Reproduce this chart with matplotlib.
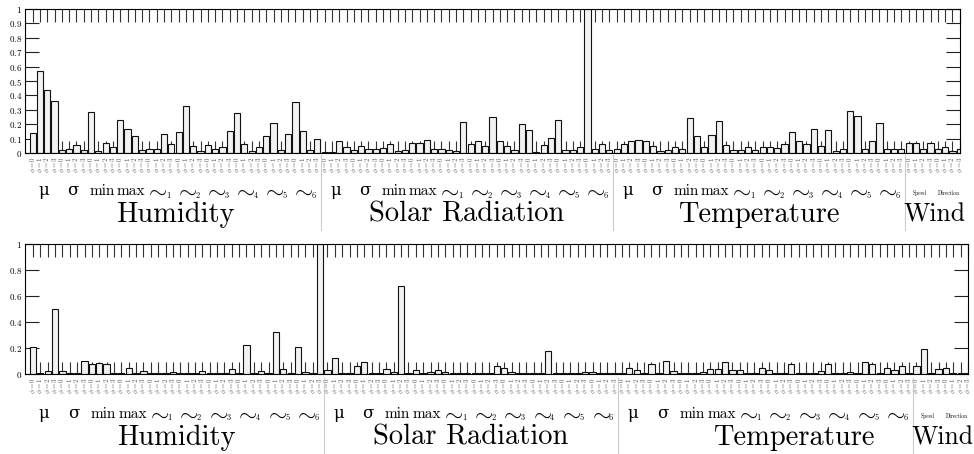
import numpy as np
import matplotlib.pyplot as plt
from matplotlib.transforms import blended_transform_factory

plt.rcParams['mathtext.fontset'] = 'cm'
plt.rcParams['font.family'] = ['cmr10', 'DejaVu Serif']
plt.rcParams['axes.unicode_minus'] = False

# categories
groups = ['Humidity', 'Solar Radiation', 'Temperature', 'Wind']
features = ['μ', 'σ', 'min', 'max', '1', '2', '3', '4', '5', '6']
wind_features = ['Speed', 'Direction']
levels = [0, 1, 2, 3]

# upper panel
top_humidity = [0.14, 0.57, 0.44, 0.36, 0.02, 0.025, 0.055, 0.02, 0.285, 0.015,
                0.07, 0.045, 0.23, 0.17, 0.12, 0.02, 0.025, 0.025, 0.135, 0.06,
                0.145, 0.325, 0.05, 0.015, 0.055, 0.025, 0.045, 0.15, 0.28, 0.065,
                0.015, 0.045, 0.12, 0.21, 0.02, 0.135, 0.355, 0.15, 0.02, 0.10]
top_solar = [0.01, 0.01, 0.08, 0.04, 0.02, 0.05, 0.025, 0.03, 0.035, 0.06,
             0.015, 0.02, 0.07, 0.07, 0.09, 0.03, 0.025, 0.02, 0.015, 0.215,
             0.06, 0.08, 0.05, 0.25, 0.085, 0.05, 0.02, 0.2, 0.16, 0.01,
             0.055, 0.105, 0.23, 0.02, 0.02, 0.045, 1.0, 0.03, 0.065, 0.02]
top_temperature = [0.03, 0.065, 0.085, 0.09, 0.085, 0.05, 0.015, 0.02, 0.04, 0.03,
                   0.24, 0.115, 0.04, 0.125, 0.22, 0.055, 0.02, 0.02, 0.045, 0.02,
                   0.045, 0.045, 0.035, 0.065, 0.145, 0.08, 0.06, 0.17, 0.05, 0.16,
                   0.015, 0.03, 0.29, 0.26, 0.03, 0.085, 0.205, 0.025, 0.025, 0.03]
top_wind = [0.07, 0.07, 0.025, 0.07, 0.025, 0.04, 0.015, 0.03]

# lower panel
bottom_humidity = [0.21, 0.01, 0.02, 0.50, 0.02, 0.005, 0.01, 0.10, 0.08, 0.085,
                   0.08, 0.005, 0.005, 0.045, 0.005, 0.02, 0.01, 0.01, 0.005, 0.015,
                   0.005, 0.01, 0.005, 0.025, 0.01, 0.005, 0.005, 0.035, 0.005, 0.225,
                   0.01, 0.02, 0.005, 0.32, 0.035, 0.005, 0.21, 0.015, 0.01, 1.0]
bottom_solar = [0.03, 0.125, 0.01, 0.005, 0.06, 0.095, 0.005, 0.005, 0.035, 0.015,
                0.68, 0.005, 0.03, 0.005, 0.015, 0.03, 0.015, 0.005, 0.005, 0.005,
                0.005, 0.005, 0.005, 0.06, 0.045, 0.015, 0.005, 0.005, 0.01, 0.01,
                0.18, 0.01, 0.01, 0.005, 0.005, 0.015, 0.015, 0.005, 0.005, 0.005]
bottom_temperature = [0.005, 0.05, 0.03, 0.005, 0.08, 0.005, 0.10, 0.025, 0.005, 0.005,
                      0.005, 0.015, 0.035, 0.035, 0.09, 0.03, 0.03, 0.005, 0.005, 0.05,
                      0.03, 0.005, 0.005, 0.075, 0.005, 0.005, 0.005, 0.02, 0.075, 0.01,
                      0.005, 0.015, 0.005, 0.09, 0.075, 0.005, 0.045, 0.03, 0.06, 0.005]
bottom_wind = [0.065, 0.19, 0.005, 0.035, 0.045, 0.01, 0.01, 0.005]

top_yticks = [0, 0.1, 0.2, 0.3, 0.4, 0.5, 0.6, 0.7, 0.8, 0.9, 1]
bottom_yticks = [0, 0.2, 0.4, 0.6, 0.8, 1]

W, H = 974, 454
fig = plt.figure(figsize=(W / 100, H / 100), dpi=100)


def draw_panel(rect, values, yticks, xlim, ylab):
    """rect in pixels (left, top, right, bottom); ylab = axes-fraction y of
    separator start/end, feature baseline, group baseline, plus a shift"""
    l, t, r, b = rect
    ax = fig.add_axes([l / W, 1 - b / H, (r - l) / W, (b - t) / H])
    x = np.arange(len(values))
    ax.bar(x, values, width=0.85, color='#f2f2f2', edgecolor='#111111',
           linewidth=0.8)
    ax.set_axisbelow(True)
    ax.set_xlim(*xlim)
    ax.set_ylim(0, 1)

    ax.set_xticks(x)
    ax.set_xticklabels([r'$\phi=%d$' % levels[i % 4] for i in x])
    ax.tick_params(axis='x', direction='in', length=9, width=0.8, top=True,
                   bottom=True, labelsize=5, rotation=90, pad=2,
                   color='#333333', labelcolor='#555555')
    ax.set_yticks(yticks)
    ax.set_yticklabels(['$%g$' % v for v in yticks])
    ax.tick_params(axis='y', direction='in', length=10, width=0.8, left=True,
                   right=True, labelsize=6.5, pad=2, color='#222222')
    for s in ax.spines.values():
        s.set_linewidth(0.8)

    tr = blended_transform_factory(ax.transData, ax.transAxes)
    sep_y0, sep_y1, feat_y, grp_y, temp_shift, tilde_y, sub_y = ylab
    for bnd in [39.5, 79.5, 119.5]:
        ax.plot([bnd, bnd], [sep_y0, sep_y1], transform=tr, clip_on=False,
                color='#cccccc', lw=0.8)
    for g in range(3):
        for k, f in enumerate(features):
            xc = g * 40 + 4 * k + 1.5
            if k < 2:
                ax.text(xc, feat_y, f, transform=tr, ha='center',
                        va='baseline', fontsize=12, family='DejaVu Serif')
            elif k < 4:
                ax.text(xc, feat_y, f, transform=tr, ha='center',
                        va='baseline', fontsize=11)
            else:
                ax.text(xc - 0.6, tilde_y, r'$\sim$', transform=tr,
                        ha='center', va='center', fontsize=17)
                ax.text(xc + 0.75, sub_y, f, transform=tr, ha='left',
                        va='baseline', fontsize=6)
    for k, f in enumerate(wind_features):
        ax.text(120 + 4 * k + 1.5, feat_y, f, transform=tr, ha='center',
                va='baseline', fontsize=4)
    centers = [19.5, 59.5, 99.5 + temp_shift, 123.5]
    sizes = [20.5, 20.5, 20.5, 18.5]
    for c, name, fs in zip(centers, groups, sizes):
        ax.text(c, grp_y, name, transform=tr, ha='center', va='baseline',
                fontsize=fs)
    return ax


top_values = top_humidity + top_solar + top_temperature + top_wind
bottom_values = bottom_humidity + bottom_solar + bottom_temperature + bottom_wind

draw_panel((25, 9, 960, 153), top_values, top_yticks, (-1.05, 127.03),
           (-0.014, -0.535, -0.292, -0.479, 0, -0.262, -0.31))
draw_panel((25, 244, 968, 374), bottom_values, bottom_yticks, (-1.085, 126.87),
           (-0.031, -0.615, -0.338, -0.546, 3.9, -0.305, -0.356))

fig.savefig('out.png', dpi=100)
